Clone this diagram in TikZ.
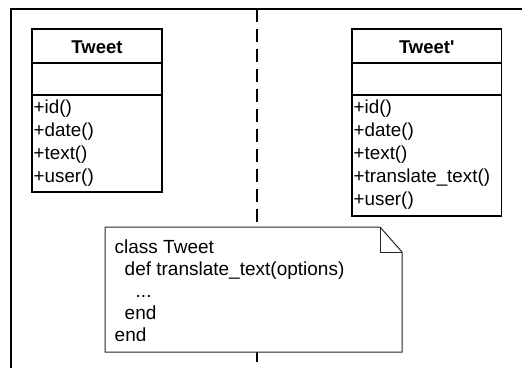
\documentclass[tikz,border=0pt]{standalone}
\usepackage{fontspec}
\setmainfont{Liberation Sans}
\newfontfamily\rawsans{Liberation Sans}[Ligatures=TeXOff]
\begin{document}
\begin{tikzpicture}[x=1pt,y=-1pt,
  frameline/.style={line width=1.8pt},
  divider/.style={line width=1.6pt, dash pattern=on 12.5pt off 7.5pt},
  classbox/.style={draw, line width=1.6pt, anchor=north west, inner sep=0pt, outer sep=0pt},
  sepline/.style={line width=1.6pt},
  classtitle/.style={anchor=base, inner sep=0pt, font=\rawsans\fontsize{18.5}{22}\selectfont\bfseries},
  member/.style={anchor=base west, inner sep=0pt, font=\fontsize{18.8}{22}\selectfont},
  noteshape/.style={draw=black!85, fill=white, line width=1pt},
  notetext/.style={anchor=base west, inner sep=0pt, font=\fontsize{19}{22}\selectfont}]
\useasboundingbox (0,0) rectangle (522,368);
% frame (top and left edges)
\coordinate (fbl) at (11,368);
\coordinate (ftl) at (11,9);
\coordinate (ftr) at (522,9);
\draw[frameline] (fbl) -- (ftl) -- (ftr);
% dashed divider
\coordinate (dtop) at (257,9);
\coordinate (dbot) at (257,368);
\draw[divider] (dtop) -- (dbot);
% left class
\node[classbox, minimum width=130pt, minimum height=162.7pt] (L) at (32,29) {};
\draw[sepline] ([yshift=-34pt]L.north west) -- ([yshift=-34pt]L.north east);
\draw[sepline] ([yshift=-66pt]L.north west) -- ([yshift=-66pt]L.north east);
\node[classtitle] (Lt) at ([yshift=-24.3pt]L.north) {Tweet};
\node[member] (L1) at (33.5,113.8) {+id()};
\node[member] (L2) at (33.5,136.6) {+date()};
\node[member] (L3) at (33.5,159.4) {+text()};
\node[member] (L4) at (33.5,182.2) {+user()};
% right class
\node[classbox, minimum width=149.5pt, minimum height=187pt] (R) at (352,29) {};
\draw[sepline] ([yshift=-34pt]R.north west) -- ([yshift=-34pt]R.north east);
\draw[sepline] ([yshift=-66pt]R.north west) -- ([yshift=-66pt]R.north east);
\node[classtitle] (Rt) at ([yshift=-24.3pt]R.north) {Tweet'};
\node[member] (R1) at (353.5,113.8) {+id()};
\node[member] (R2) at (353.5,136.6) {+date()};
\node[member] (R3) at (353.5,159.4) {+text()};
\node[member] (R4) at (353.5,182.2) {+translate\_text()};
\node[member] (R5) at (353.5,205.0) {+user()};
% note
\coordinate (n1) at (105,227);
\coordinate (n2) at (380,227);
\coordinate (n3) at (402,252);
\coordinate (n4) at (402,352);
\coordinate (n5) at (105,352);
\coordinate (nf) at (380,252);
\draw[noteshape] (n1) -- (n2) -- (n3) -- (n4) -- (n5) -- cycle;
\draw[noteshape, fill=none] (n2) -- (nf) -- (n3);
\node[notetext] (t1) at (114.5,253.5) {class Tweet};
\node[notetext] (t2) at (124.5,275.5) {def translate\_text(options)};
\node[notetext] (t3) at (135.5,297.5) {...};
\node[notetext] (t4) at (124.5,319.5) {end};
\node[notetext] (t5) at (114.5,341.5) {end};
\end{tikzpicture}
\end{document}
